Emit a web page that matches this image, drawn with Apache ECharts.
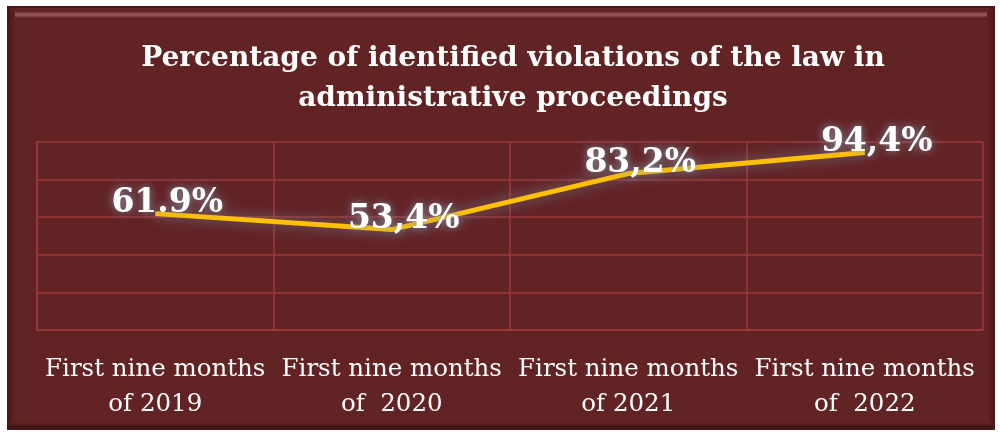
<!DOCTYPE html>
<html><head><meta charset="utf-8">
<script src="https://cdn.jsdelivr.net/npm/echarts@6/dist/echarts.min.js"></script>
<style>html,body{margin:0;padding:0;background:#fff}#c{width:1001px;height:433px}</style>
</head><body><div id="c"></div>
<script>
const categories = ['First nine months\nof 2019', 'First nine months\nof  2020', 'First nine months\nof 2021', 'First nine months\nof  2022'];
const values = [61.9, 53.4, 83.2, 94.4];
const valueLabels = ['61.9%', '53,4%', '83,2%', '94,4%'];
const titleText = 'Percentage of identified violations of the law in\nadministrative proceedings';

const chart = echarts.init(document.getElementById('c'));
const serif = '"DejaVu Serif", "Liberation Serif", serif';
chart.setOption({
  backgroundColor: '#ffffff',
  animation: false,
  graphic: [
    { type: 'rect', shape: { x: 7, y: 6, width: 988, height: 424 }, style: { fill: '#4a1819' }, z: -10 },
    { type: 'rect', shape: { x: 9, y: 8, width: 984, height: 420 }, style: { fill: '#622325' }, z: -9 },
    { type: 'rect', shape: { x: 14, y: 12, width: 974, height: 6 },
      style: { fill: { type: 'linear', x: 0, y: 0, x2: 0, y2: 1, colorStops: [{ offset: 0, color: '#7a3a3b' }, { offset: 0.5, color: '#9a5a5a' }, { offset: 1, color: '#622325' }] } }, z: -8 },
    { type: 'rect', shape: { x: 9, y: 8, width: 6, height: 420 },
      style: { fill: { type: 'linear', x: 0, y: 0, x2: 1, y2: 0, colorStops: [{ offset: 0, color: '#4e1a1b' }, { offset: 1, color: '#622325' }] } }, z: -8 },
    { type: 'rect', shape: { x: 987, y: 8, width: 6, height: 420 },
      style: { fill: { type: 'linear', x: 0, y: 0, x2: 1, y2: 0, colorStops: [{ offset: 0, color: '#622325' }, { offset: 1, color: '#4e1a1b' }] } }, z: -8 },
    { type: 'rect', shape: { x: 9, y: 422, width: 984, height: 6 },
      style: { fill: { type: 'linear', x: 0, y: 0, x2: 0, y2: 1, colorStops: [{ offset: 0, color: '#622325' }, { offset: 1, color: '#3e1314' }] } }, z: -8 }
  ],
  title: {
    text: titleText,
    left: 508, top: 34, textAlign: 'center',
    textStyle: { color: '#ffffff', fontFamily: serif, fontWeight: 'bold', fontSize: 28, lineHeight: 40 }
  },
  grid: { left: 37, right: 18, top: 142, bottom: 103 },
  xAxis: {
    type: 'category', data: categories, boundaryGap: true,
    axisLine: { show: true, lineStyle: { color: '#9c3a3b', width: 1.5 } },
    axisTick: { show: false },
    splitLine: { show: true, lineStyle: { color: '#9c3a3b', width: 1.5 } },
    axisLabel: { color: '#ffffff', fontFamily: serif, fontSize: 24.5, lineHeight: 35, margin: 22, interval: 0 }
  },
  yAxis: {
    type: 'value', min: 0, max: 100, interval: 20,
    axisLine: { show: true, lineStyle: { color: '#9c3a3b', width: 1.5 } },
    axisTick: { show: false }, axisLabel: { show: false },
    splitLine: { show: true, lineStyle: { color: '#9c3a3b', width: 1.5 } }
  },
  series: [{
    type: 'line', data: values, symbol: 'circle', symbolSize: 2, showSymbol: true,
    itemStyle: { color: 'rgba(0,0,0,0)', borderWidth: 0 },
    lineStyle: { color: '#ffc000', width: 5, shadowColor: 'rgba(120,140,160,0.85)', shadowBlur: 14 },
    label: {
      show: true, position: 'top', distance: 0, offset: [12, 7],
      formatter: p => valueLabels[p.dataIndex],
      color: '#ffffff', fontFamily: serif, fontWeight: 'bold', fontSize: 33,
      textShadowColor: 'rgba(130,150,170,1)', textShadowBlur: 8
    }
  }]
});
</script></body></html>
